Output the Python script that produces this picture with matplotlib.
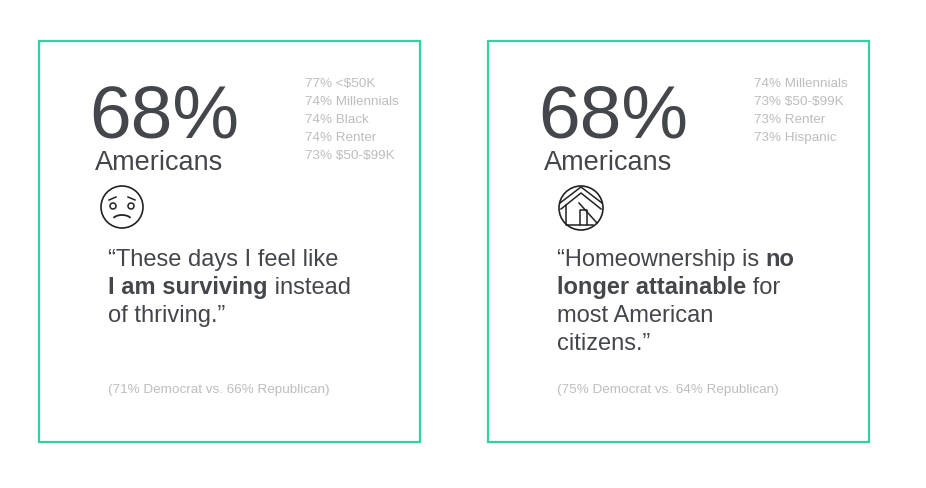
import matplotlib
matplotlib.use('Agg')
import matplotlib.pyplot as plt
from matplotlib.patches import Rectangle, Circle, Arc
import numpy as np

plt.rcParams['font.family'] = ['Liberation Sans', 'DejaVu Sans']
plt.rcParams['text.parse_math'] = False

headline = ['68%', '68%']
group = ['Americans', 'Americans']
stats_left = ['77% <$50K', '74% Millennials', '74% Black', '74% Renter', '73% $50-$99K']
stats_right = ['74% Millennials', '73% $50-$99K', '73% Renter', '73% Hispanic']
# quote lines as (text, bold) segments
quote_left = [[('\u201cThese days I feel like', False)],
              [('I am surviving', True), (' instead', False)],
              [('of thriving.\u201d', False)]]
quote_right = [[('\u201cHomeownership is ', False), ('no', True)],
               [('longer attainable', True), (' for', False)],
               [('most American', False)],
               [('citizens.\u201d', False)]]
party_left = '(71% Democrat vs. 66% Republican)'
party_right = '(75% Democrat vs. 64% Republican)'

green = '#2ed3a2'
dark = '#43464b'
grey = '#bdbdbd'

fig = plt.figure(figsize=(9.26, 4.88), dpi=100)
ax = fig.add_axes([0, 0, 1, 1])
ax.set_xlim(0, 926)
ax.set_ylim(488, 0)
ax.axis('off')
fig.canvas.draw()
renderer = fig.canvas.get_renderer()


def seg_text(x, y, segs, size):
    for s, bold in segs:
        t = ax.text(x, y, s, fontsize=size, color=dark, va='baseline', ha='left',
                    fontweight='bold' if bold else 'normal')
        bb = t.get_window_extent(renderer)
        x += bb.width


def card(x0, big, grp, stats, quote, party, icon):
    ax.add_patch(Rectangle((x0, 41), 381, 401, fill=False, ec=green, lw=1.6))
    ax.text(x0 + 50, 137, big, fontsize=54, color=dark, va='baseline')
    ax.text(x0 + 56, 170, grp, fontsize=19.5, color=dark, va='baseline')
    for i, s in enumerate(stats):
        ax.text(x0 + 266, 87 + i * 18, s, fontsize=9.7, color=grey, va='baseline')
    for i, segs in enumerate(quote):
        seg_text(x0 + 69, 266 + i * 28, segs, 17)
    ax.text(x0 + 69, 393, party, fontsize=9.7, color=grey, va='baseline')
    c = '#222'
    if icon == 'sad':
        cx, cy = x0 + 83, 207
        ax.add_patch(Circle((cx, cy), 21, fill=False, ec=c, lw=1.2))
        for dx in (-9, 9):
            ax.add_patch(Circle((cx + dx, cy - 1), 3, fill=False, ec=c, lw=1.1))
        ax.plot([cx - 13, cx - 6], [cy - 7, cy - 10], color=c, lw=1.1)
        ax.plot([cx + 6, cx + 13], [cy - 10, cy - 7], color=c, lw=1.1)
        ax.add_patch(Arc((cx, cy + 14), 20, 12, theta1=200, theta2=340, ec=c, lw=1.3))
    else:
        cx, cy = x0 + 93, 208
        ax.add_patch(Circle((cx, cy), 22, fill=False, ec=c, lw=1.2))
        ax.plot([cx - 21, cx, cx + 21], [cy - 5, cy - 21, cy - 5], color=c, lw=1.1)
        ax.plot([cx - 20, cx, cx + 20], [cy + 1, cy - 15, cy + 1], color=c, lw=1.1)
        ax.plot([cx - 15, cx - 15, cx + 12], [cy - 3, cy + 17, cy + 17], color=c, lw=1.1)
        ax.plot([cx - 2, cx + 16], [cy - 5, cy + 15], color=c, lw=1.1)
        ax.plot([cx - 1, cx - 1, cx + 6, cx + 6], [cy + 17, cy + 2, cy + 2, cy + 17], color=c, lw=1.1)


card(39, headline[0], group[0], stats_left, quote_left, party_left, 'sad')
card(488, headline[1], group[1], stats_right, quote_right, party_right, 'house')

fig.savefig('out.png', dpi=100, facecolor='white')
